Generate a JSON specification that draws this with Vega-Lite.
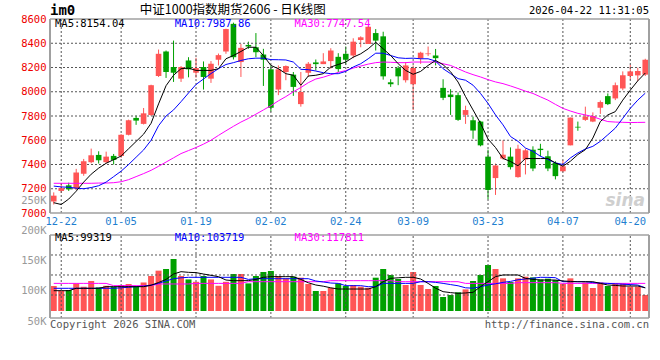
{
"$schema":"https://vega.github.io/schema/vega-lite/v6.json",
"width":599,"height":302,
"autosize":{"type":"none"},
"padding":{"left":50,"top":19,"right":11,"bottom":39},
"background":"#ffffff",
"config":{"view":{"stroke":null},"text":{"font":"DejaVu Sans Mono"}},
"datasets":{
"k":[
{"d":"2025-12-19","o":7095,"h":7170,"l":7070,"c":7143,"v":108300,"m5":7085,"m10":7222,"m30":7245,"vm5":100500,"vm10":104500,"vm30":112700},
{"d":"2025-12-22","o":7182,"h":7245,"l":7165,"c":7205,"v":100500,"m5":7070,"m10":7215,"m30":7245,"vm5":100500,"vm10":104500,"vm30":112700},
{"d":"2025-12-23","o":7228,"h":7250,"l":7182,"c":7195,"v":101700,"m5":7115,"m10":7212,"m30":7245,"vm5":100500,"vm10":104500,"vm30":112700},
{"d":"2025-12-24","o":7201,"h":7364,"l":7190,"c":7334,"v":112700,"m5":7180,"m10":7205,"m30":7245,"vm5":104500,"vm10":104500,"vm30":112700},
{"d":"2025-12-25","o":7323,"h":7446,"l":7307,"c":7427,"v":107200,"m5":7255,"m10":7200,"m30":7245,"vm5":104500,"vm10":104500,"vm30":112700},
{"d":"2025-12-26","o":7419,"h":7531,"l":7410,"c":7476,"v":116700,"m5":7320,"m10":7210,"m30":7245,"vm5":104500,"vm10":104500,"vm30":112700},
{"d":"2025-12-29","o":7479,"h":7509,"l":7408,"c":7435,"v":106000,"m5":7370,"m10":7225,"m30":7247,"vm5":104500,"vm10":104500,"vm30":112700},
{"d":"2025-12-30","o":7419,"h":7506,"l":7410,"c":7465,"v":108700,"m5":7410,"m10":7255,"m30":7247,"vm5":107200,"vm10":104500,"vm30":112700},
{"d":"2025-12-31","o":7471,"h":7487,"l":7400,"c":7438,"v":107200,"m5":7440,"m10":7300,"m30":7250,"vm5":107200,"vm10":104500,"vm30":108900},
{"d":"2026-01-05","o":7470,"h":7650,"l":7455,"c":7645,"v":110000,"m5":7470,"m10":7345,"m30":7258,"vm5":107200,"vm10":105300,"vm30":108900},
{"d":"2026-01-06","o":7645,"h":7770,"l":7640,"c":7765,"v":111700,"m5":7530,"m10":7400,"m30":7275,"vm5":107200,"vm10":106300,"vm30":108900},
{"d":"2026-01-07","o":7784,"h":7803,"l":7727,"c":7762,"v":107200,"m5":7590,"m10":7460,"m30":7300,"vm5":107200,"vm10":107200,"vm30":108900},
{"d":"2026-01-08","o":7735,"h":7866,"l":7730,"c":7822,"v":114200,"m5":7650,"m10":7520,"m30":7325,"vm5":107200,"vm10":108000,"vm30":108900},
{"d":"2026-01-09","o":7808,"h":8058,"l":7800,"c":8054,"v":125000,"m5":7740,"m10":7600,"m30":7352,"vm5":109500,"vm10":110000,"vm30":108900},
{"d":"2026-01-12","o":8130,"h":8348,"l":8122,"c":8313,"v":133900,"m5":7900,"m10":7720,"m30":7385,"vm5":114200,"vm10":112700,"vm30":111700},
{"d":"2026-01-13","o":8332,"h":8340,"l":8114,"c":8163,"v":136700,"m5":8050,"m10":7800,"m30":7420,"vm5":119300,"vm10":116700,"vm30":111700},
{"d":"2026-01-14","o":8204,"h":8422,"l":8081,"c":8157,"v":153300,"m5":8136,"m10":7850,"m30":7455,"vm5":128300,"vm10":120500,"vm30":111700},
{"d":"2026-01-15","o":8108,"h":8212,"l":8081,"c":8204,"v":125000,"m5":8190,"m10":7918,"m30":7490,"vm5":132200,"vm10":122000,"vm30":111700},
{"d":"2026-01-16","o":8258,"h":8285,"l":8119,"c":8185,"v":119300,"m5":8195,"m10":7990,"m30":7515,"vm5":131100,"vm10":122800,"vm30":111700},
{"d":"2026-01-19","o":8157,"h":8280,"l":8116,"c":8196,"v":115300,"m5":8176,"m10":8060,"m30":7540,"vm5":130600,"vm10":122800,"vm30":112700},
{"d":"2026-01-20","o":8204,"h":8250,"l":8018,"c":8122,"v":125000,"m5":8176,"m10":8105,"m30":7568,"vm5":128300,"vm10":122800,"vm30":112700},
{"d":"2026-01-21","o":8108,"h":8253,"l":8073,"c":8231,"v":119300,"m5":8176,"m10":8150,"m30":7600,"vm5":126100,"vm10":122800,"vm30":112700},
{"d":"2026-01-22","o":8264,"h":8315,"l":8217,"c":8302,"v":108700,"m5":8190,"m10":8190,"m30":7640,"vm5":123900,"vm10":122800,"vm30":112700},
{"d":"2026-01-23","o":8332,"h":8520,"l":8313,"c":8517,"v":115300,"m5":8272,"m10":8225,"m30":7678,"vm5":118300,"vm10":122800,"vm30":112700},
{"d":"2026-01-26","o":8560,"h":8570,"l":8266,"c":8285,"v":128300,"m5":8299,"m10":8240,"m30":7715,"vm5":117200,"vm10":122800,"vm30":112700},
{"d":"2026-01-27","o":8245,"h":8394,"l":8122,"c":8362,"v":128300,"m5":8332,"m10":8258,"m30":7750,"vm5":117200,"vm10":122800,"vm30":112700},
{"d":"2026-01-28","o":8386,"h":8413,"l":8354,"c":8373,"v":112700,"m5":8367,"m10":8272,"m30":7780,"vm5":117300,"vm10":119300,"vm30":115500},
{"d":"2026-01-29","o":8367,"h":8484,"l":8285,"c":8326,"v":125000,"m5":8367,"m10":8277,"m30":7815,"vm5":119300,"vm10":120500,"vm30":115500},
{"d":"2026-01-30","o":8307,"h":8354,"l":8048,"c":8264,"v":131700,"m5":8299,"m10":8277,"m30":7850,"vm5":122800,"vm10":120500,"vm30":115500},
{"d":"2026-02-02","o":8185,"h":8217,"l":7836,"c":7868,"v":133300,"m5":8217,"m10":8265,"m30":7885,"vm5":123900,"vm10":120500,"vm30":115500},
{"d":"2026-02-03","o":8018,"h":8217,"l":7972,"c":8185,"v":125000,"m5":8190,"m10":8264,"m30":7925,"vm5":123900,"vm10":120500,"vm30":115500},
{"d":"2026-02-04","o":8163,"h":8217,"l":8095,"c":8212,"v":121100,"m5":8149,"m10":8262,"m30":7960,"vm5":123900,"vm10":120500,"vm30":115500},
{"d":"2026-02-05","o":8141,"h":8163,"l":7966,"c":8040,"v":123900,"m5":8136,"m10":8245,"m30":8000,"vm5":123900,"vm10":120500,"vm30":115500},
{"d":"2026-02-06","o":7898,"h":8163,"l":7877,"c":7998,"v":122200,"m5":8054,"m10":8185,"m30":8035,"vm5":119300,"vm10":120500,"vm30":115500},
{"d":"2026-02-09","o":8157,"h":8245,"l":8122,"c":8231,"v":111700,"m5":8130,"m10":8182,"m30":8075,"vm5":113700,"vm10":120500,"vm30":115500},
{"d":"2026-02-10","o":8242,"h":8266,"l":8176,"c":8228,"v":100000,"m5":8136,"m10":8171,"m30":8105,"vm5":110000,"vm10":116700,"vm30":115500},
{"d":"2026-02-11","o":8228,"h":8318,"l":8228,"c":8250,"v":100000,"m5":8149,"m10":8157,"m30":8120,"vm5":108000,"vm10":115000,"vm30":115500},
{"d":"2026-02-12","o":8253,"h":8359,"l":8190,"c":8340,"v":105300,"m5":8204,"m10":8149,"m30":8140,"vm5":105300,"vm10":113300,"vm30":117200},
{"d":"2026-02-13","o":8288,"h":8318,"l":8163,"c":8187,"v":112700,"m5":8225,"m10":8149,"m30":8160,"vm5":103300,"vm10":112700,"vm30":117200},
{"d":"2026-02-24","o":8313,"h":8373,"l":8223,"c":8264,"v":108300,"m5":8245,"m10":8168,"m30":8175,"vm5":103300,"vm10":108900,"vm30":117200},
{"d":"2026-02-25","o":8299,"h":8441,"l":8277,"c":8413,"v":110000,"m5":8285,"m10":8204,"m30":8195,"vm5":103300,"vm10":108900,"vm30":117200},
{"d":"2026-02-26","o":8427,"h":8457,"l":8367,"c":8449,"v":107200,"m5":8313,"m10":8231,"m30":8212,"vm5":103300,"vm10":108900,"vm30":117200},
{"d":"2026-02-27","o":8394,"h":8544,"l":8394,"c":8536,"v":105300,"m5":8354,"m10":8272,"m30":8228,"vm5":103300,"vm10":107200,"vm30":117200},
{"d":"2026-03-02","o":8484,"h":8517,"l":8340,"c":8422,"v":122200,"m5":8408,"m10":8318,"m30":8240,"vm5":107200,"vm10":107200,"vm30":117200},
{"d":"2026-03-03","o":8457,"h":8495,"l":8100,"c":8127,"v":136700,"m5":8354,"m10":8318,"m30":8245,"vm5":115500,"vm10":112700,"vm30":117200},
{"d":"2026-03-04","o":8078,"h":8103,"l":8040,"c":8062,"v":126700,"m5":8299,"m10":8299,"m30":8243,"vm5":121100,"vm10":112700,"vm30":117200},
{"d":"2026-03-05","o":8195,"h":8212,"l":8054,"c":8127,"v":120000,"m5":8231,"m10":8280,"m30":8240,"vm5":122000,"vm10":112700,"vm30":115500},
{"d":"2026-03-06","o":8095,"h":8245,"l":8076,"c":8217,"v":110000,"m5":8176,"m10":8275,"m30":8240,"vm5":122800,"vm10":112700,"vm30":115500},
{"d":"2026-03-09","o":8062,"h":8217,"l":7849,"c":8196,"v":131700,"m5":8144,"m10":8277,"m30":8245,"vm5":122800,"vm10":112700,"vm30":115500},
{"d":"2026-03-10","o":8275,"h":8330,"l":8230,"c":8322,"v":110000,"m5":8168,"m10":8272,"m30":8245,"vm5":120000,"vm10":115500,"vm30":115500},
{"d":"2026-03-11","o":8310,"h":8373,"l":8294,"c":8316,"v":103300,"m5":8217,"m10":8272,"m30":8245,"vm5":112700,"vm10":115500,"vm30":115500},
{"d":"2026-03-12","o":8299,"h":8353,"l":8217,"c":8277,"v":108300,"m5":8258,"m10":8253,"m30":8245,"vm5":104700,"vm10":114400,"vm30":115500},
{"d":"2026-03-13","o":8032,"h":8103,"l":7931,"c":7950,"v":90000,"m5":8223,"m10":8190,"m30":8231,"vm5":98900,"vm10":112700,"vm30":115500},
{"d":"2026-03-16","o":7977,"h":8021,"l":7809,"c":7956,"v":93300,"m5":8165,"m10":8149,"m30":8217,"vm5":97300,"vm10":110700,"vm30":115500},
{"d":"2026-03-17","o":7972,"h":7994,"l":7760,"c":7768,"v":97800,"m5":8080,"m10":8108,"m30":8190,"vm5":96100,"vm10":108700,"vm30":115500},
{"d":"2026-03-18","o":7809,"h":7885,"l":7735,"c":7849,"v":102700,"m5":7960,"m10":8095,"m30":8163,"vm5":96700,"vm10":105300,"vm30":112700},
{"d":"2026-03-19","o":7765,"h":7795,"l":7612,"c":7680,"v":116700,"m5":7850,"m10":8054,"m30":8141,"vm5":97800,"vm10":104700,"vm30":112700},
{"d":"2026-03-20","o":7754,"h":7760,"l":7550,"c":7558,"v":126700,"m5":7740,"m10":7986,"m30":8122,"vm5":107200,"vm10":107200,"vm30":112700},
{"d":"2026-03-23","o":7465,"h":7522,"l":7114,"c":7190,"v":143300,"m5":7610,"m10":7904,"m30":8100,"vm5":115500,"vm10":110000,"vm30":112700},
{"d":"2026-03-24","o":7288,"h":7408,"l":7149,"c":7392,"v":136700,"m5":7540,"m10":7809,"m30":8081,"vm5":123900,"vm10":112000,"vm30":112700},
{"d":"2026-03-25","o":7449,"h":7599,"l":7441,"c":7481,"v":121100,"m5":7450,"m10":7727,"m30":8067,"vm5":126700,"vm10":114400,"vm30":112700},
{"d":"2026-03-26","o":7465,"h":7541,"l":7359,"c":7378,"v":115000,"m5":7425,"m10":7631,"m30":8048,"vm5":126700,"vm10":116000,"vm30":112700},
{"d":"2026-03-27","o":7296,"h":7563,"l":7291,"c":7530,"v":121100,"m5":7390,"m10":7591,"m30":8027,"vm5":126700,"vm10":118700,"vm30":113900},
{"d":"2026-03-30","o":7441,"h":7530,"l":7318,"c":7517,"v":123900,"m5":7450,"m10":7536,"m30":8005,"vm5":121100,"vm10":120000,"vm30":113900},
{"d":"2026-03-31","o":7522,"h":7550,"l":7345,"c":7367,"v":122700,"m5":7449,"m10":7509,"m30":7986,"vm5":119300,"vm10":121300,"vm30":113900},
{"d":"2026-04-01","o":7530,"h":7571,"l":7468,"c":7519,"v":119300,"m5":7449,"m10":7468,"m30":7958,"vm5":118300,"vm10":122800,"vm30":113900},
{"d":"2026-04-02","o":7468,"h":7514,"l":7345,"c":7367,"v":120500,"m5":7449,"m10":7441,"m30":7931,"vm5":118300,"vm10":122700,"vm30":113900},
{"d":"2026-04-03","o":7413,"h":7427,"l":7277,"c":7304,"v":118300,"m5":7413,"m10":7413,"m30":7896,"vm5":118300,"vm10":122200,"vm30":113900},
{"d":"2026-04-07","o":7345,"h":7435,"l":7337,"c":7386,"v":111700,"m5":7386,"m10":7400,"m30":7863,"vm5":116700,"vm10":115500,"vm30":112700},
{"d":"2026-04-08","o":7558,"h":7787,"l":7558,"c":7787,"v":121100,"m5":7427,"m10":7454,"m30":7841,"vm5":116000,"vm10":115500,"vm30":112700},
{"d":"2026-04-09","o":7711,"h":7754,"l":7678,"c":7705,"v":106700,"m5":7482,"m10":7495,"m30":7822,"vm5":115500,"vm10":115500,"vm30":112700},
{"d":"2026-04-10","o":7768,"h":7877,"l":7760,"c":7795,"v":114200,"m5":7522,"m10":7528,"m30":7809,"vm5":115500,"vm10":115500,"vm30":112700},
{"d":"2026-04-13","o":7754,"h":7830,"l":7749,"c":7800,"v":105000,"m5":7618,"m10":7550,"m30":7795,"vm5":115500,"vm10":114000,"vm30":112700},
{"d":"2026-04-14","o":7868,"h":7928,"l":7817,"c":7915,"v":114200,"m5":7754,"m10":7591,"m30":7773,"vm5":112700,"vm10":113300,"vm30":112700},
{"d":"2026-04-15","o":7964,"h":7986,"l":7890,"c":7898,"v":108300,"m5":7809,"m10":7645,"m30":7754,"vm5":110000,"vm10":112700,"vm30":112700},
{"d":"2026-04-16","o":7945,"h":8076,"l":7931,"c":8054,"v":112700,"m5":7836,"m10":7700,"m30":7750,"vm5":109300,"vm10":112000,"vm30":112700},
{"d":"2026-04-17","o":8027,"h":8168,"l":8013,"c":8136,"v":112700,"m5":7931,"m10":7781,"m30":7748,"vm5":108300,"vm10":111300,"vm30":112700},
{"d":"2026-04-20","o":8130,"h":8223,"l":8100,"c":8168,"v":107200,"m5":8013,"m10":7863,"m30":7746,"vm5":108300,"vm10":110700,"vm30":112700},
{"d":"2026-04-21","o":8135,"h":8198,"l":8089,"c":8171,"v":107200,"m5":8090,"m10":7931,"m30":7747,"vm5":108300,"vm10":110000,"vm30":112700},
{"d":"2026-04-22","o":8141,"h":8272,"l":8130,"c":8264,"v":93300,"m5":8154,"m10":7988,"m30":7748,"vm5":105300,"vm10":105300,"vm30":112700}
],
"gridDates":[{"d":"2025-12-22"},{"d":"2026-01-05"},{"d":"2026-01-19"},{"d":"2026-02-02"},{"d":"2026-02-24"},{"d":"2026-03-09"},{"d":"2026-03-23"},{"d":"2026-04-07"},{"d":"2026-04-20"}],
"priceTicks":[{"p":7200},{"p":7400},{"p":7600},{"p":7800},{"p":8000},{"p":8200},{"p":8400}],
"volTicks":[{"g":93333},{"g":126667},{"g":160000}]
},
"layer":[
{"layer":[
{"data":{"name":"k"},"mark":{"type":"rule","strokeWidth":1},
 "encoding":{"x":{"field":"d","type":"ordinal","scale":{"type":"band","paddingInner":0,"paddingOuter":0},
   "axis":{"orient":"bottom","offset":-108,"values":["2025-12-22","2026-01-05","2026-01-19","2026-02-02","2026-02-24","2026-03-09","2026-03-23","2026-04-07","2026-04-20"],"labelExpr":"substring(datum.value, 5)","domain":false,"ticks":false,"grid":false,"labelColor":"#1f7fd0","labelFont":"DejaVu Sans Mono","labelFontSize":10.5,"labelPadding":3,"labelAngle":0,"labelOverlap":false,"title":null}},
 "y":{"field":"l","type":"quantitative","scale":{"domain":[6109.3,8600],"zero":false,"nice":false},
   "axis":{"orient":"left","values":[7000,7200,7400,7600,7800,8000,8200,8400,8600],"tickCount":30,"format":"d","grid":false,"domain":false,"ticks":false,"labelColor":"#ee0000","labelFont":"DejaVu Sans Mono","labelFontSize":10.5,"labelPadding":4,"labelFlush":false,"labelOverlap":false,"title":null}},
 "y2":{"field":"h"},
 "color":{"condition":{"test":"datum.c >= datum.o","value":"#ff5555"},"value":"#00a000"}}},
{"data":{"name":"gridDates"},"mark":{"type":"rule","stroke":"#555555","strokeDash":[2,2],"strokeWidth":1,"opacity":1},
 "encoding":{"x":{"field":"d","type":"ordinal","scale":{"type":"band","paddingInner":0,"paddingOuter":0}},
 "y":{"datum":7000,"type":"quantitative","scale":{"domain":[6109.3,8600],"zero":false,"nice":false}},"y2":{"datum":8600}}},
{"data":{"name":"priceTicks"},"mark":{"type":"rule","stroke":"#555555","strokeDash":[2,2],"strokeWidth":1,"opacity":1},
 "encoding":{"y":{"field":"p","type":"quantitative","scale":{"domain":[6109.3,8600],"zero":false,"nice":false}}}},
{"data":{"name":"k"},"mark":{"type":"bar","width":{"band":0.75}},
 "encoding":{"x":{"field":"d","type":"ordinal","scale":{"type":"band","paddingInner":0,"paddingOuter":0}},
 "y":{"field":"o","type":"quantitative","scale":{"domain":[6109.3,8600],"zero":false,"nice":false}},
 "y2":{"field":"c"},
 "color":{"condition":{"test":"datum.c >= datum.o","value":"#ff5555"},"value":"#00a000"}}},
{"data":{"name":"k"},"mark":{"type":"line","color":"#ff00ff","strokeWidth":1},
 "encoding":{"x":{"field":"d","type":"ordinal","scale":{"type":"band","paddingInner":0,"paddingOuter":0}},
 "y":{"field":"m30","type":"quantitative","scale":{"domain":[6109.3,8600],"zero":false,"nice":false}}}},
{"data":{"name":"k"},"mark":{"type":"line","color":"#0000ff","strokeWidth":1},
 "encoding":{"x":{"field":"d","type":"ordinal","scale":{"type":"band","paddingInner":0,"paddingOuter":0}},
 "y":{"field":"m10","type":"quantitative","scale":{"domain":[6109.3,8600],"zero":false,"nice":false}}}},
{"data":{"name":"k"},"mark":{"type":"line","color":"#000000","strokeWidth":1},
 "encoding":{"x":{"field":"d","type":"ordinal","scale":{"type":"band","paddingInner":0,"paddingOuter":0}},
 "y":{"field":"m5","type":"quantitative","scale":{"domain":[6109.3,8600],"zero":false,"nice":false}}}},
{"data":{"values":[{}]},"mark":{"type":"rule","color":"#a0a0a0","strokeWidth":1.5},
 "encoding":{"y":{"datum":8600,"type":"quantitative","scale":{"domain":[6109.3,8600],"zero":false,"nice":false}}}},
{"data":{"values":[{}]},"mark":{"type":"rule","color":"#a0a0a0","strokeWidth":1.5},
 "encoding":{"y":{"datum":7000,"type":"quantitative","scale":{"domain":[6109.3,8600],"zero":false,"nice":false}}}},
{"data":{"name":"k"},"transform":[{"filter":"datum.d == '2025-12-19'"}],"mark":{"type":"rule","color":"#a0a0a0","strokeWidth":2},
 "encoding":{"x":{"field":"d","type":"ordinal","bandPosition":0,"scale":{"type":"band","paddingInner":0,"paddingOuter":0}},
 "y":{"datum":7000,"type":"quantitative","scale":{"domain":[6109.3,8600],"zero":false,"nice":false}},"y2":{"datum":8600}}},
{"data":{"name":"k"},"transform":[{"filter":"datum.d == '2026-04-22'"}],"mark":{"type":"rule","color":"#a0a0a0","strokeWidth":2},
 "encoding":{"x":{"field":"d","type":"ordinal","bandPosition":1,"scale":{"type":"band","paddingInner":0,"paddingOuter":0}},
 "y":{"datum":7000,"type":"quantitative","scale":{"domain":[6109.3,8600],"zero":false,"nice":false}},"y2":{"datum":8600}}},
{"data":{"name":"k"},"transform":[{"filter":"datum.d == '2025-12-19'"}],"mark":{"type":"text","align":"left","baseline":"middle","font":"DejaVu Sans Mono","fontSize":14,"fontWeight":"bold","color":"#000000"},
 "encoding":{"x":{"field":"d","type":"ordinal","bandPosition":0,"scale":{"type":"band","paddingInner":0,"paddingOuter":0}},
 "y":{"datum":8663,"type":"quantitative","scale":{"domain":[6109.3,8600],"zero":false,"nice":false}},"text":{"value":"im0"}}},
{"data":{"name":"k"},"transform":[{"filter":"datum.d == '2026-01-08'"}],"mark":{"type":"text","align":"left","baseline":"middle","font":"Noto Sans CJK SC","fontSize":12.5,"color":"#000000"},
 "encoding":{"x":{"field":"d","type":"ordinal","bandPosition":0,"scale":{"type":"band","paddingInner":0,"paddingOuter":0}},
 "y":{"datum":8676,"type":"quantitative","scale":{"domain":[6109.3,8600],"zero":false,"nice":false}},"text":{"value":"中证1000指数期货2606 - 日K线图"}}},
{"data":{"name":"k"},"transform":[{"filter":"datum.d == '2026-04-22'"}],"mark":{"type":"text","align":"right","baseline":"middle","font":"DejaVu Sans Mono","fontSize":10.5,"color":"#000000"},
 "encoding":{"x":{"field":"d","type":"ordinal","bandPosition":1,"scale":{"type":"band","paddingInner":0,"paddingOuter":0}},
 "y":{"datum":8663,"type":"quantitative","scale":{"domain":[6109.3,8600],"zero":false,"nice":false}},"text":{"value":"2026-04-22 11:31:05"}}},
{"data":{"name":"k"},"transform":[{"filter":"datum.d == '2025-12-19'"}],"mark":{"type":"text","align":"left","baseline":"middle","dx":5,"font":"DejaVu Sans Mono","fontSize":10.5,"color":"#000000"},
 "encoding":{"x":{"field":"d","type":"ordinal","bandPosition":0,"scale":{"type":"band","paddingInner":0,"paddingOuter":0}},
 "y":{"datum":8558,"type":"quantitative","scale":{"domain":[6109.3,8600],"zero":false,"nice":false}},"text":{"value":"MA5:8154.04"}}},
{"data":{"name":"k"},"transform":[{"filter":"datum.d == '2026-01-14'"}],"mark":{"type":"text","align":"left","baseline":"middle","dx":5,"font":"DejaVu Sans Mono","fontSize":10.5,"color":"#0000ff"},
 "encoding":{"x":{"field":"d","type":"ordinal","bandPosition":0,"scale":{"type":"band","paddingInner":0,"paddingOuter":0}},
 "y":{"datum":8558,"type":"quantitative","scale":{"domain":[6109.3,8600],"zero":false,"nice":false}},"text":{"value":"MA10:7987.86"}}},
{"data":{"name":"k"},"transform":[{"filter":"datum.d == '2026-02-05'"}],"mark":{"type":"text","align":"left","baseline":"middle","dx":5,"font":"DejaVu Sans Mono","fontSize":10.5,"color":"#ff00ff"},
 "encoding":{"x":{"field":"d","type":"ordinal","bandPosition":0,"scale":{"type":"band","paddingInner":0,"paddingOuter":0}},
 "y":{"datum":8558,"type":"quantitative","scale":{"domain":[6109.3,8600],"zero":false,"nice":false}},"text":{"value":"MA30:7747.54"}}},
{"data":{"name":"k"},"transform":[{"filter":"datum.d == '2026-04-22'"}],"mark":{"type":"text","align":"right","baseline":"middle","dx":-4,"font":"DejaVu Sans","fontSize":17,"fontWeight":"bold","fontStyle":"italic","color":"#cfcfcf"},
 "encoding":{"x":{"field":"d","type":"ordinal","bandPosition":1,"scale":{"type":"band","paddingInner":0,"paddingOuter":0}},
 "y":{"datum":7100,"type":"quantitative","scale":{"domain":[6109.3,8600],"zero":false,"nice":false}},"text":{"value":"sina"}}}
]},
{"layer":[
{"data":{"name":"k"},"mark":{"type":"bar","width":{"band":0.8}},
 "encoding":{"x":{"field":"d","type":"ordinal","scale":{"type":"band","paddingInner":0,"paddingOuter":0}},
 "y":{"field":"v","type":"quantitative","scale":{"domain":[50000,553333],"zero":false,"nice":false},
   "axis":{"orient":"left","values":[50000,100000,150000,200000,250000],"tickCount":30,"labelExpr":"(datum.value/1000) + 'K'","grid":false,"domain":false,"ticks":false,"labelColor":"#999999","labelFont":"DejaVu Sans Mono","labelFontSize":10.5,"labelPadding":4,"labelFlush":false,"labelOverlap":false,"title":null}},
 "y2":{"datum":66667},
 "color":{"condition":{"test":"datum.c >= datum.o","value":"#ff5555"},"value":"#00a000"}}},
{"data":{"name":"gridDates"},"mark":{"type":"rule","stroke":"#555555","strokeDash":[2,2],"strokeWidth":1,"opacity":1},
 "encoding":{"x":{"field":"d","type":"ordinal","scale":{"type":"band","paddingInner":0,"paddingOuter":0}},
 "y":{"datum":55000,"type":"quantitative","scale":{"domain":[50000,553333],"zero":false,"nice":false}},"y2":{"datum":193333}}},
{"data":{"name":"volTicks"},"mark":{"type":"rule","stroke":"#555555","strokeDash":[2,2],"strokeWidth":1,"opacity":1},
 "encoding":{"y":{"field":"g","type":"quantitative","scale":{"domain":[50000,553333],"zero":false,"nice":false}}}},
{"data":{"name":"k"},"mark":{"type":"line","color":"#ff00ff","strokeWidth":1},
 "encoding":{"x":{"field":"d","type":"ordinal","scale":{"type":"band","paddingInner":0,"paddingOuter":0}},
 "y":{"field":"vm30","type":"quantitative","scale":{"domain":[50000,553333],"zero":false,"nice":false}}}},
{"data":{"name":"k"},"mark":{"type":"line","color":"#0000ff","strokeWidth":1},
 "encoding":{"x":{"field":"d","type":"ordinal","scale":{"type":"band","paddingInner":0,"paddingOuter":0}},
 "y":{"field":"vm10","type":"quantitative","scale":{"domain":[50000,553333],"zero":false,"nice":false}}}},
{"data":{"name":"k"},"mark":{"type":"line","color":"#000000","strokeWidth":1},
 "encoding":{"x":{"field":"d","type":"ordinal","scale":{"type":"band","paddingInner":0,"paddingOuter":0}},
 "y":{"field":"vm5","type":"quantitative","scale":{"domain":[50000,553333],"zero":false,"nice":false}}}},
{"data":{"values":[{}]},"mark":{"type":"rule","color":"#a0a0a0","strokeWidth":1.5},
 "encoding":{"y":{"datum":193333,"type":"quantitative","scale":{"domain":[50000,553333],"zero":false,"nice":false}}}},
{"data":{"values":[{}]},"mark":{"type":"rule","color":"#a0a0a0","strokeWidth":1.5},
 "encoding":{"y":{"datum":55000,"type":"quantitative","scale":{"domain":[50000,553333],"zero":false,"nice":false}}}},
{"data":{"name":"k"},"transform":[{"filter":"datum.d == '2025-12-19'"}],"mark":{"type":"rule","color":"#a0a0a0","strokeWidth":2},
 "encoding":{"x":{"field":"d","type":"ordinal","bandPosition":0,"scale":{"type":"band","paddingInner":0,"paddingOuter":0}},
 "y":{"datum":55000,"type":"quantitative","scale":{"domain":[50000,553333],"zero":false,"nice":false}},"y2":{"datum":193333}}},
{"data":{"name":"k"},"transform":[{"filter":"datum.d == '2026-04-22'"}],"mark":{"type":"rule","color":"#a0a0a0","strokeWidth":2},
 "encoding":{"x":{"field":"d","type":"ordinal","bandPosition":1,"scale":{"type":"band","paddingInner":0,"paddingOuter":0}},
 "y":{"datum":55000,"type":"quantitative","scale":{"domain":[50000,553333],"zero":false,"nice":false}},"y2":{"datum":193333}}},
{"data":{"name":"k"},"transform":[{"filter":"datum.d == '2025-12-19'"}],"mark":{"type":"text","align":"left","baseline":"middle","dx":5,"font":"DejaVu Sans Mono","fontSize":10.5,"color":"#000000"},
 "encoding":{"x":{"field":"d","type":"ordinal","bandPosition":0,"scale":{"type":"band","paddingInner":0,"paddingOuter":0}},
 "y":{"datum":188833,"type":"quantitative","scale":{"domain":[50000,553333],"zero":false,"nice":false}},"text":{"value":"MA5:99319"}}},
{"data":{"name":"k"},"transform":[{"filter":"datum.d == '2026-01-14'"}],"mark":{"type":"text","align":"left","baseline":"middle","dx":5,"font":"DejaVu Sans Mono","fontSize":10.5,"color":"#0000ff"},
 "encoding":{"x":{"field":"d","type":"ordinal","bandPosition":0,"scale":{"type":"band","paddingInner":0,"paddingOuter":0}},
 "y":{"datum":188833,"type":"quantitative","scale":{"domain":[50000,553333],"zero":false,"nice":false}},"text":{"value":"MA10:103719"}}},
{"data":{"name":"k"},"transform":[{"filter":"datum.d == '2026-02-05'"}],"mark":{"type":"text","align":"left","baseline":"middle","dx":5,"font":"DejaVu Sans Mono","fontSize":10.5,"color":"#ff00ff"},
 "encoding":{"x":{"field":"d","type":"ordinal","bandPosition":0,"scale":{"type":"band","paddingInner":0,"paddingOuter":0}},
 "y":{"datum":188833,"type":"quantitative","scale":{"domain":[50000,553333],"zero":false,"nice":false}},"text":{"value":"MA30:117811"}}},
{"data":{"name":"k"},"transform":[{"filter":"datum.d == '2025-12-19'"}],"mark":{"type":"text","align":"left","baseline":"middle","font":"DejaVu Sans Mono","fontSize":10.5,"color":"#555555"},
 "encoding":{"x":{"field":"d","type":"ordinal","bandPosition":0,"scale":{"type":"band","paddingInner":0,"paddingOuter":0}},
 "y":{"datum":43000,"type":"quantitative","scale":{"domain":[50000,553333],"zero":false,"nice":false}},"text":{"value":"Copyright 2026 SINA.COM"}}},
{"data":{"name":"k"},"transform":[{"filter":"datum.d == '2026-04-22'"}],"mark":{"type":"text","align":"right","baseline":"middle","font":"DejaVu Sans Mono","fontSize":10.5,"color":"#555555"},
 "encoding":{"x":{"field":"d","type":"ordinal","bandPosition":1,"scale":{"type":"band","paddingInner":0,"paddingOuter":0}},
 "y":{"datum":43000,"type":"quantitative","scale":{"domain":[50000,553333],"zero":false,"nice":false}},"text":{"value":"http://finance.sina.com.cn"}}}
]}
],
"resolve":{"scale":{"y":"independent"}}
}
